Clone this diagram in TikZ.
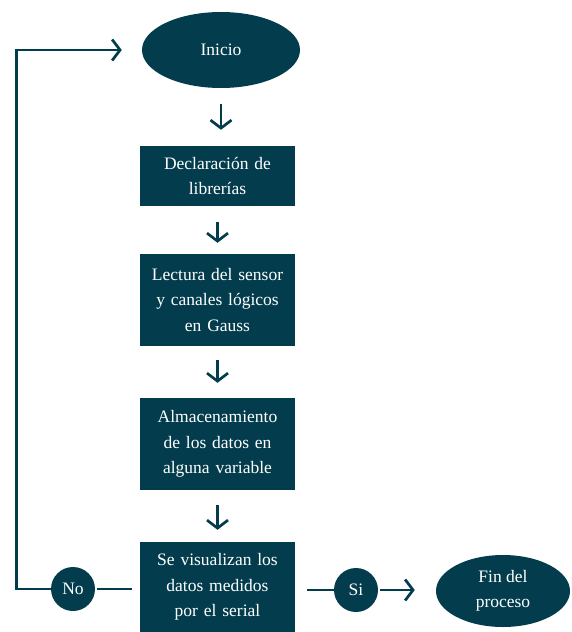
\documentclass[tikz,border=0pt]{standalone}
\usepackage{fontspec}
\setmainfont{Liberation Serif}
\usepackage{xcolor}
\usepackage{tikz}
\usetikzlibrary{positioning,arrows.meta,shapes.geometric}
\definecolor{accent}{RGB}{3,61,77}

\tikzset{
  stepbox/.style={fill=accent, text=white, text width=155pt, minimum width=155pt,
    align=center, inner sep=0pt, font=\fontsize{17.5}{25.5}\selectfont},
  endcap/.style={ellipse, fill=accent, text=white, inner sep=0pt, align=center,
    font=\fontsize{17.5}{25.5}\selectfont},
  decision/.style={circle, fill=accent, text=white, minimum size=44pt, inner sep=0pt,
    font=\fontsize{17.5}{20}\selectfont},
  link/.style={draw=accent, line width=2.7pt},
  flow/.style={link, -{Straight Barb[length=8pt,width=21pt,line width=2.7pt]}},
}

\begin{document}
\begin{tikzpicture}[x=1pt, y=-1pt]
  \useasboundingbox (0,0) rectangle (571,632);

  \node[endcap, minimum width=158pt, minimum height=76pt] (inicio) at (221,50) {Inicio};
  \node[stepbox, minimum height=60pt] (libs) at (217.5,176) {Declaración de\\librerías};
  \node[stepbox, minimum height=92pt] (lectura) at (217.5,300) {Lectura del sensor\\y canales lógicos\\en Gauss};
  \node[stepbox, minimum height=92pt] (datos) at (217.5,444) {Almacenamiento\\de los datos en\\alguna variable};
  \node[stepbox, minimum height=90pt] (serial) at (217.5,587) {Se visualizan los\\datos medidos\\por el serial};
  \node[decision] (no) at (73,589) {No};
  \node[decision] (si) at (356,590) {Si};
  \node[endcap, minimum width=134pt, minimum height=72pt] (fin) at (503,591) {Fin del\\proceso};

  % flujo principal
  \draw[flow, shorten <=16pt, shorten >=16pt] (inicio.south) -- (inicio.south |- libs.north);
  \draw[flow, shorten <=16pt, shorten >=11pt] (libs) -- (lectura);
  \draw[flow, shorten <=14pt, shorten >=15pt] (lectura) -- (datos);
  \draw[flow, shorten <=15pt, shorten >=12pt] (datos) -- (serial);

  % decision
  \draw[link, shorten >=8pt, shorten <=2pt] (no.east) -- (serial.west |- no.east);
  \draw[flow] (no.west) -- ++(-34,0) |- ([xshift=-20pt]inicio.west);
  \draw[link, shorten <=12pt] (serial.east |- si.west) -- (si.west);
  \draw[flow, shorten <=2pt, shorten >=21pt] (si.east) -- (fin.west |- si.east);
\end{tikzpicture}
\end{document}
